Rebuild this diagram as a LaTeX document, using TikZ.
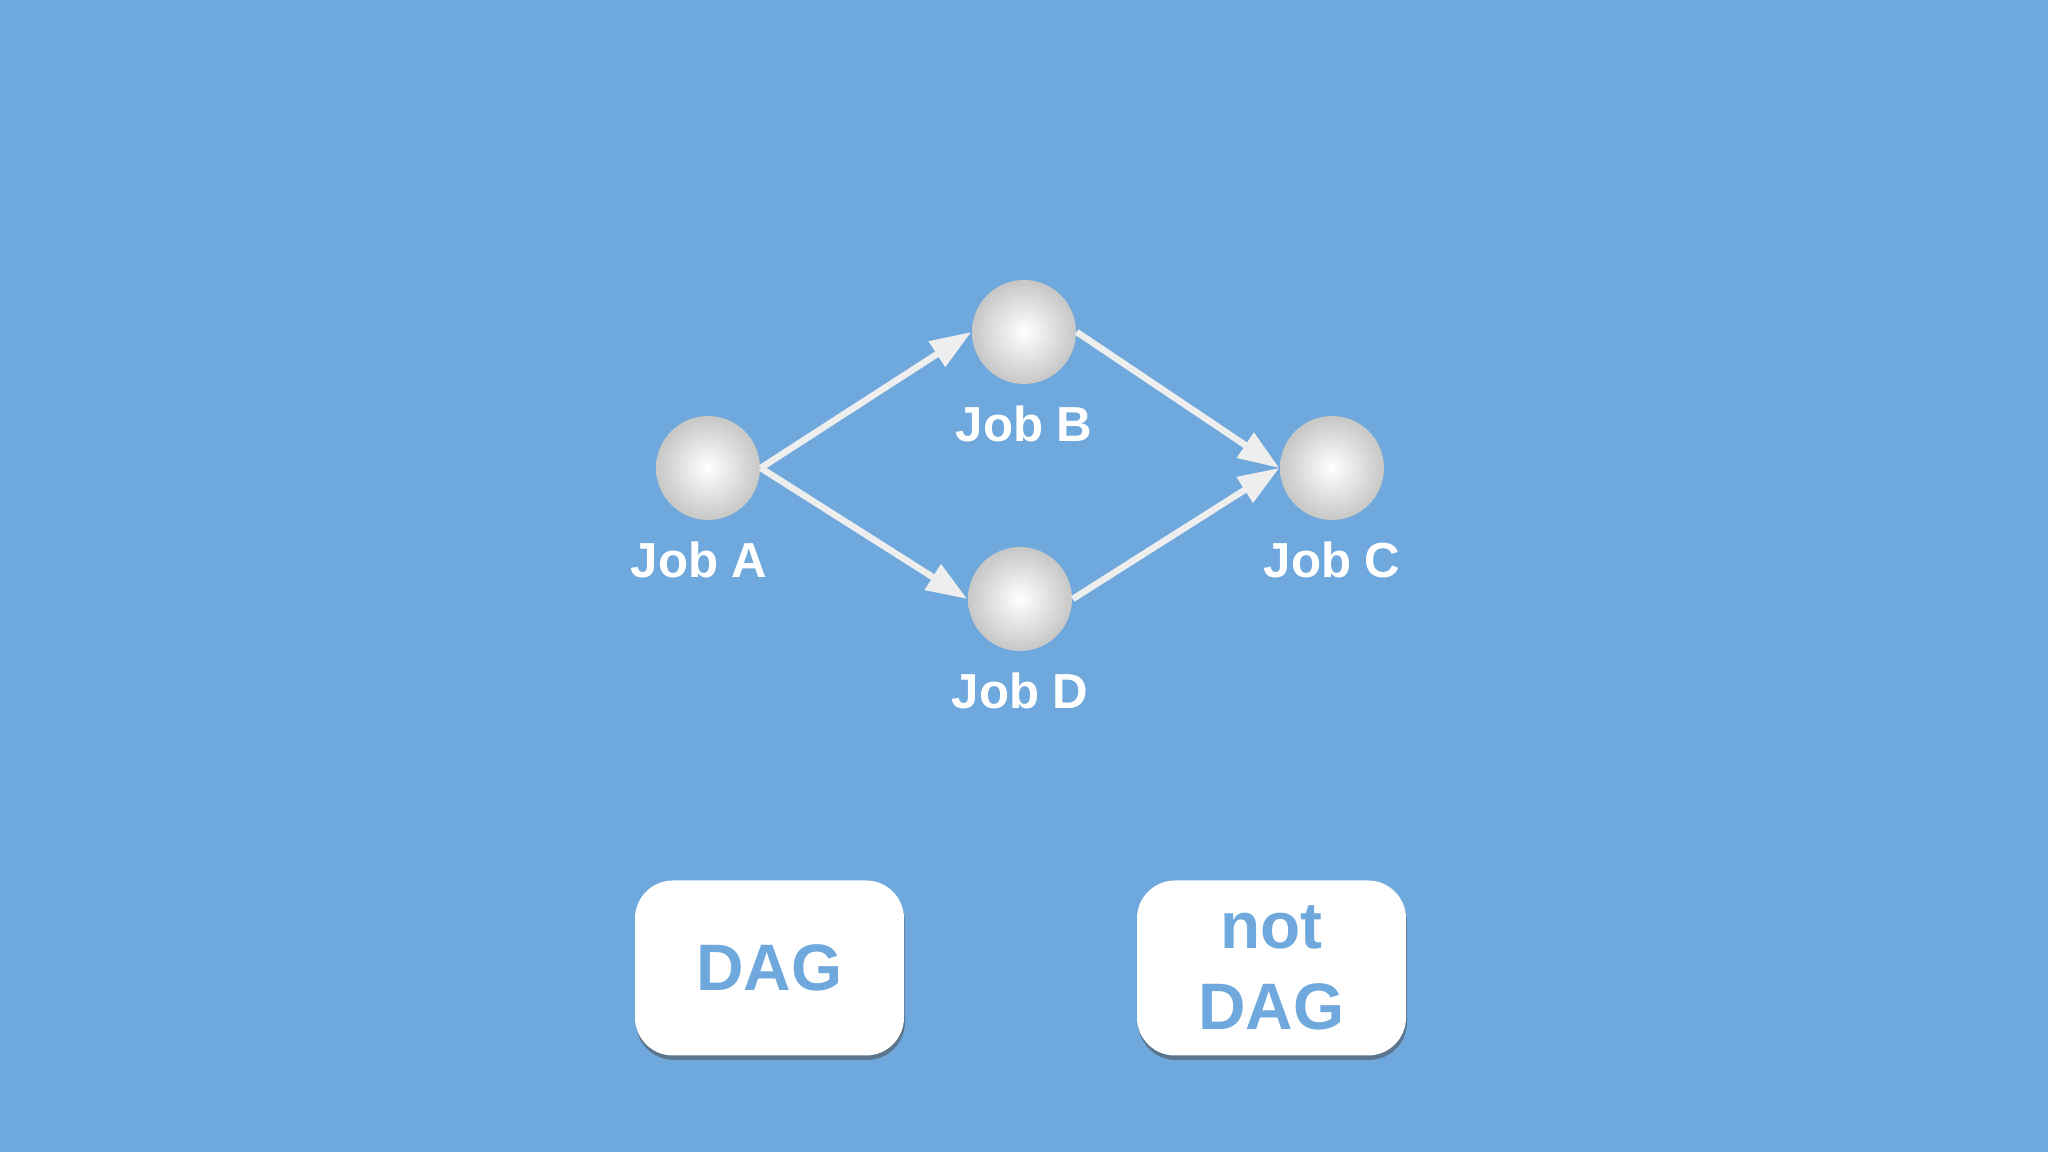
\documentclass[tikz,border=0pt]{standalone}
\usepackage{fontspec}
\setmainfont{Liberation Sans}
\usetikzlibrary{positioning, arrows.meta, shadows}
\definecolor{slideblue}{RGB}{111,168,220}
\definecolor{arrowgray}{RGB}{238,238,238}

\begin{document}
\begin{tikzpicture}[
    job/.style={circle, minimum size=1.04cm, inner sep=0pt, inner color=white, outer color=black!22},
    joblabel/.style={text=white, font=\fontsize{14}{16}\selectfont\bfseries, inner sep=0pt, text height=0.36cm, text depth=0pt},
    flow/.style={-{Triangle[length=0.41cm, width=0.29cm]}, draw=arrowgray, fill=arrowgray, line width=0.065cm},
    verdict/.style={fill=white, rounded corners=0.38cm, minimum width=2.69cm, minimum height=1.75cm, inner sep=0pt, align=center,
      text=slideblue, font=\fontsize{18.7}{23}\selectfont\bfseries,
      drop shadow={shadow xshift=0.01cm, shadow yshift=-0.045cm, opacity=0.55, fill=black!70}}
  ]
    % Background
    \fill[slideblue] (0,0) rectangle (20.48,11.52);
    \useasboundingbox (0,0) rectangle (20.48,11.52);

    % Jobs
    \node[job] (jobA) at (7.08,6.84) {};
    \node[job] (jobB) at (10.24,8.20) {};
    \node[job] (jobD) at (10.20,5.53) {};
    \node[job] (jobC) at (13.32,6.84) {};

    % Labels below the jobs
    \node[joblabel, below=0.20cm of jobA, xshift=-0.09cm] (labA) {Job A};
    \node[joblabel, below=0.20cm of jobB] (labB) {Job B};
    \node[joblabel, below=0.20cm of jobD] (labD) {Job D};
    \node[joblabel, below=0.20cm of jobC] (labC) {Job C};

    % Dependencies
    \foreach \s/\t in {jobA/jobB, jobA/jobD, jobB/jobC, jobD/jobC} {
      \draw[flow] (\s.east) -- (\t.west);
    }

    % Answer boxes
    \node[verdict] (dag) at (7.695,1.84) {DAG};
    \node[verdict] (notdag) at (12.715,1.84) {not\\DAG};

  \end{tikzpicture}
\end{document}
